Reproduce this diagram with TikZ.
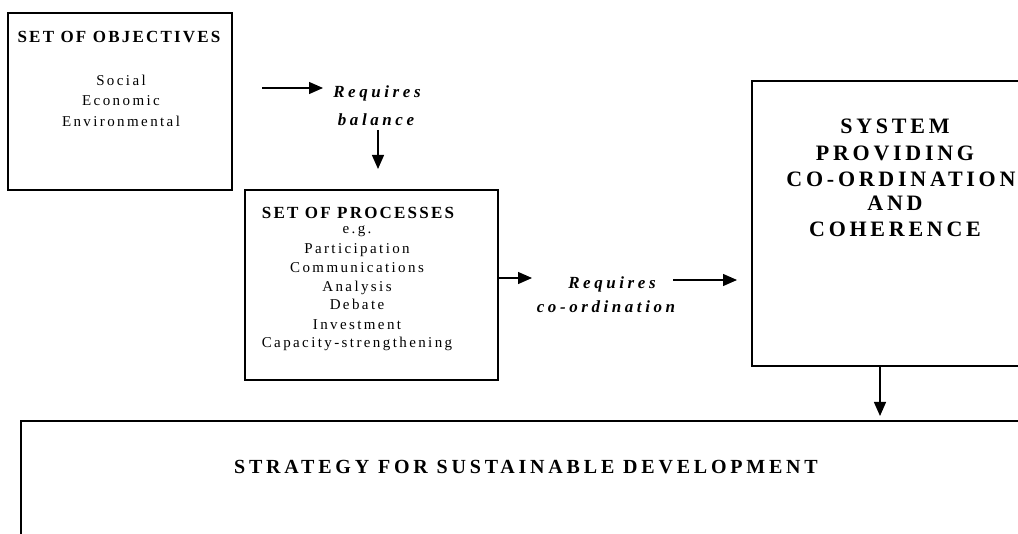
\documentclass[tikz,border=0pt]{standalone}
\usepackage{fontspec}
\setmainfont{Liberation Serif}
\newfontfamily\hdfont[LetterSpace=13]{Liberation Serif}
\newfontfamily\bdfont[LetterSpace=16]{Liberation Serif}
\newfontfamily\rqfont[LetterSpace=21]{Liberation Serif}
\newfontfamily\syfont[LetterSpace=17]{Liberation Serif}
\newfontfamily\stfont[LetterSpace=19]{Liberation Serif}
\usetikzlibrary{arrows.meta}
\begin{document}
\begin{tikzpicture}[x=1pt,y=-1pt,
  box/.style={draw,line width=1.4pt,inner sep=0pt,outer sep=0pt},
  arr/.style={line width=1.3pt,-{Triangle[length=14pt,width=12pt]}},
  hd/.style={anchor=base,inner sep=0pt,font=\hdfont\bfseries\fontsize{17}{17}\selectfont},
  bd/.style={anchor=base,inner sep=0pt,font=\bdfont\fontsize{15}{15}\selectfont},
  rq/.style={anchor=base,inner sep=0pt,font=\rqfont\bfseries\itshape\fontsize{17}{17}\selectfont},
  sy/.style={anchor=base,inner sep=0pt,font=\syfont\bfseries\fontsize{22}{22}\selectfont},
  st/.style={anchor=base,inner sep=0pt,font=\stfont\bfseries\fontsize{20}{20}\selectfont}]
\useasboundingbox (0,0) rectangle (1018,534);
\clip (0,0) rectangle (1018,534);

% boxes
\node[box,minimum width=224pt,minimum height=177pt] (obj) at (120,101.5) {};
\node[box,minimum width=253pt,minimum height=190pt] (proc) at (371.5,285) {};
\node[box,minimum width=282pt,minimum height=285pt] (sys) at (893,223.5) {};
\node[box,minimum width=1008pt,minimum height=160pt] (strat) at (525,501) {};

% objectives text
\node[hd] (ot) at (119,43) {SET OF OBJECTIVES};
\node[bd] (o1) at (121,86) {Social};
\node[bd] (o2) at (121,106) {Economic};
\node[bd] (o3) at (121,127) {Environmental};

% processes text
\node[hd] (pt) at (358,219) {SET OF PROCESSES};
\node[bd] (p0) at (357,234) {e.g.};
\node[bd] (p1) at (357,254) {Participation};
\node[bd] (p2) at (357,273) {Communications};
\node[bd] (p3) at (357,292) {Analysis};
\node[bd] (p4) at (357,310) {Debate};
\node[bd] (p5) at (357,330) {Investment};
\node[bd] (p6) at (357,348) {Capacity-strengthening};

% requires labels
\node[rq] (rb1) at (377,98) {Requires};
\node[rq] (rb2) at (376,126) {balance};
\node[rq] (rc1) at (612,289) {Requires};
\node[rq] (rc2) at (606,313) {co-ordination};

% system text
\node[sy] (s1) at (895,134) {SYSTEM};
\node[sy] (s2) at (895,161) {PROVIDING};
\node[sy] (s3) at (901,187) {CO-ORDINATION};
\node[sy] (s4) at (895,211) {AND};
\node[sy] (s5) at (895,237) {COHERENCE};

% strategy text
\node[st] (t1) at (526,474) {STRATEGY FOR SUSTAINABLE DEVELOPMENT};

% connector end points
\coordinate (a1s) at (262,88);
\coordinate (a1e) at (323,88);
\coordinate (a2s) at (378,130);
\coordinate (a2e) at (378,169);
\coordinate (a3e) at (532,278);
\coordinate (a4s) at (673,280);
\coordinate (a4e) at (737,280);
\coordinate (a5e) at (880,416);

\draw[arr] (a1s) -- (a1e);
\draw[arr] (a2s) -- (a2e);
\draw[arr] (proc.east |- a3e) -- (a3e);
\draw[arr] (a4s) -- (a4e);
\draw[arr] (sys.south -| a5e) -- (a5e);
\end{tikzpicture}
\end{document}
